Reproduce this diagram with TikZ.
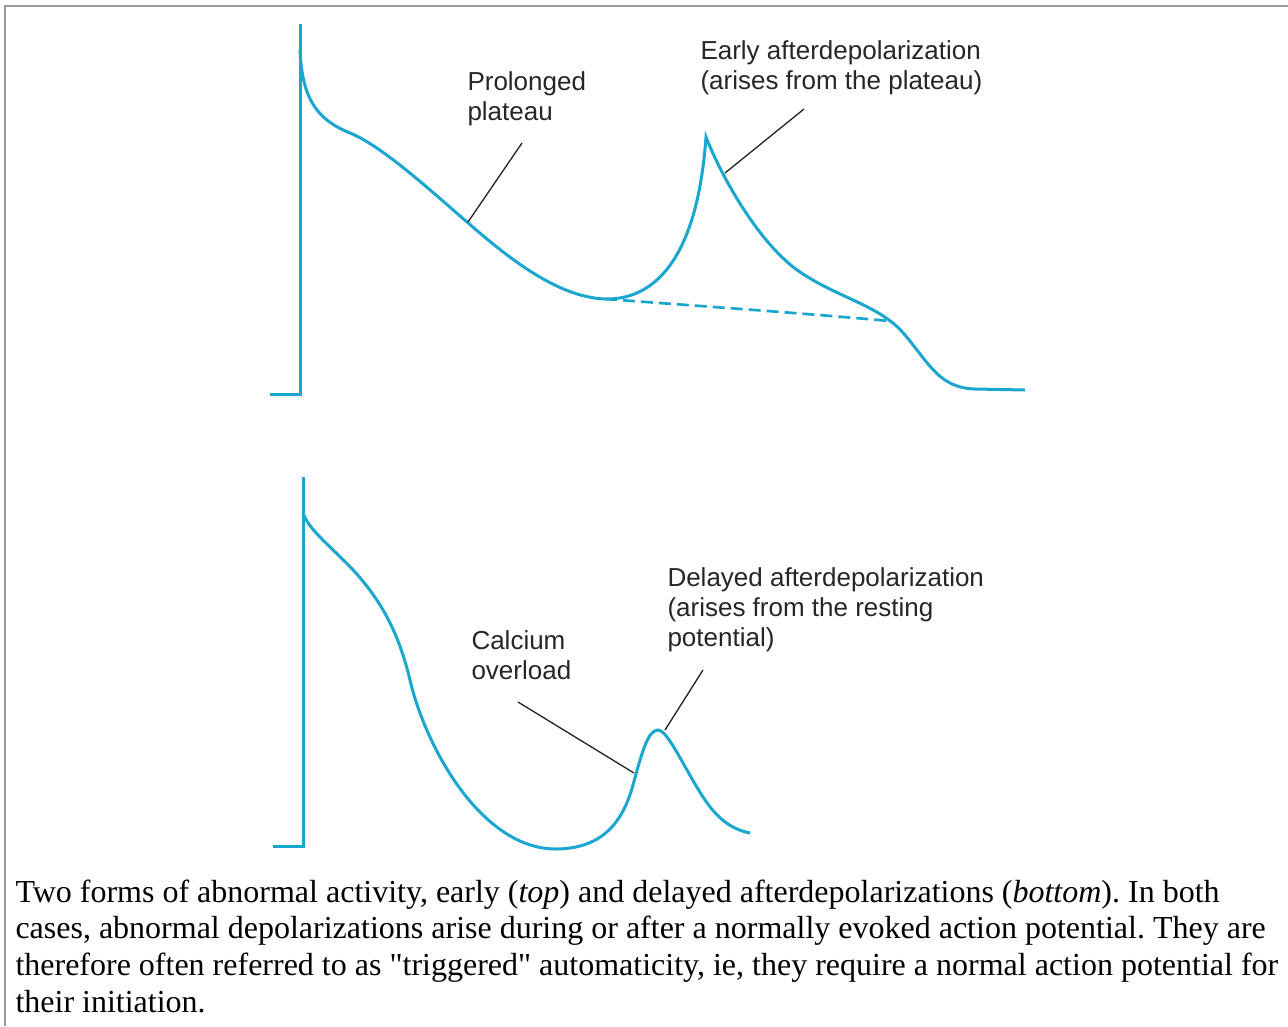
\documentclass[tikz,border=0pt]{standalone}
\usepackage{fontspec}
\setmainfont{Liberation Serif}[Ligatures=TeXOff]
\newfontfamily\labelfont{Liberation Sans}
\frenchspacing
\definecolor{apblue}{RGB}{26,166,206}
\definecolor{framegray}{RGB}{153,153,153}
\tikzset{every picture/.style={line width=0.75pt}}
\tikzset{
  trace/.style={draw=apblue, line width=2.25pt},
  leader/.style={draw=black!85, line width=1pt},
  lbl/.style={anchor=north west, inner sep=0pt, align=left, text=black!85,
    font=\labelfont\fontsize{19.5}{22.5}\selectfont},
}

\begin{document}
\begin{tikzpicture}[x=0.75pt,y=0.75pt,yscale=-1,xscale=1]
\useasboundingbox (0,0) rectangle (1288,1026);

%Frame
\draw [framegray, line width=1.5pt] (5,1026) -- (5,6) -- (1288,6) ;

%Straight Lines: top upstroke
\draw [trace] (270,394) -- (300,394) -- (300,24) ;
%Curve Lines: prolonged plateau and early afterdepolarization
\draw [trace] (300,50) .. controls (302,100) and (318,120) .. (350,133) .. controls (382,146) and (430,190) .. (467,222) .. controls (504,254) and (555,297) .. (605,299) .. controls (660,300) and (698,250) .. (706,137) .. controls (722,178) and (760,245) .. (800,272) .. controls (840,299) and (880,305) .. (905,335) .. controls (930,365) and (940,388) .. (975,389) -- (1025,390) ;
%Curve Lines: normal repolarization (dashed)
\draw [trace, line width=2pt, dash pattern=on 9pt off 4.5pt] (605,299) .. controls (700,306) and (800,313) .. (890,321) ;

%Straight Lines: bottom upstroke
\draw [trace] (273,846) -- (303,846) -- (303,477) ;
%Curve Lines: calcium overload and delayed afterdepolarization
\draw [trace] (303,512) .. controls (306,528) and (335,550) .. (355,572) .. controls (380,600) and (398,630) .. (410,680) .. controls (425,745) and (480,848) .. (555,849) .. controls (600,849) and (622,825) .. (633,785) .. controls (642,752) and (648,730) .. (658,730) .. controls (668,730) and (685,770) .. (705,800) .. controls (720,822) and (735,830) .. (750,833) ;

% Leader ends
\coordinate (plateauPt) at (468,222) ;
\coordinate (plateauEnd) at (522,143) ;
\coordinate (eadPt) at (725,173) ;
\coordinate (eadEnd) at (804,109) ;
\coordinate (calciumPt) at (634,773) ;
\coordinate (calciumEnd) at (518,702) ;
\coordinate (dadPt) at (665,730) ;
\coordinate (dadEnd) at (703,670) ;

%Straight Lines
\draw [leader] (plateauEnd) -- (plateauPt) ;
\draw [leader] (eadEnd) -- (eadPt) ;
\draw [leader] (calciumEnd) -- (calciumPt) ;
\draw [leader] (dadEnd) -- (dadPt) ;

% Text Node
\draw (467,71) node [lbl] (plateauLbl) {Prolonged\\plateau};
% Text Node
\draw (700,40) node [lbl] (eadLbl) {Early afterdepolarization\\(arises from the plateau)};
% Text Node
\draw (471,630) node [lbl] (calciumLbl) {Calcium\\overload};
% Text Node
\draw (667,567) node [lbl] (dadLbl) {Delayed afterdepolarization\\(arises from the resting\\potential)};

% Caption
\draw (15,879) node [anchor=north west, inner sep=0pt, align=left, font=\fontsize{24}{27.6}\selectfont] (caption) {Two forms of abnormal activity, early (\textit{top}) and delayed afterdepolarizations (\textit{bottom}). In both\\cases, abnormal depolarizations arise during or after a normally evoked action potential. They are\\therefore often referred to as "triggered" automaticity, ie, they require a normal action potential for\\their initiation.};

\end{tikzpicture}
\end{document}
